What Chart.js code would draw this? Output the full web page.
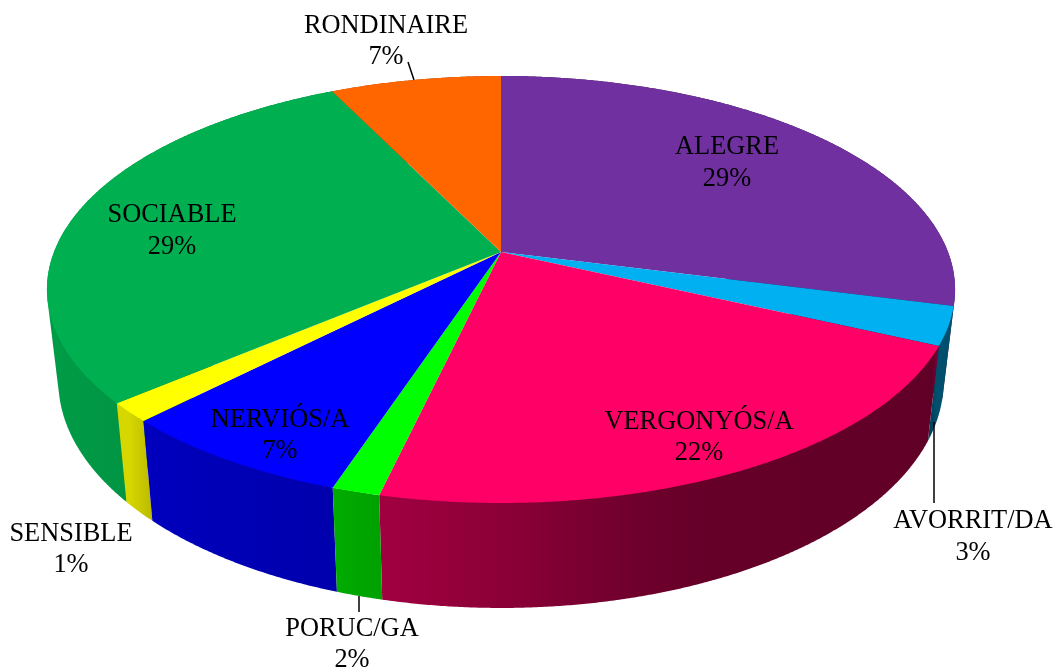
<!DOCTYPE html>
<html>
<head>
<meta charset="utf-8">
<style>html,body{margin:0;padding:0;background:#fff}canvas{display:block}</style>
<script src="https://cdn.jsdelivr.net/npm/chart.js@4"></script>
</head>
<body>
<canvas id="c" width="1062" height="670"></canvas>
<script>
const categories = ['ALEGRE','AVORRIT/DA','VERGONYÓS/A','PORUC/GA','NERVIÓS/A','SENSIBLE','SOCIABLE','RONDINAIRE'];
const sliceShares = [29, 2.9, 21.7, 1.45, 7.25, 1.45, 29, 7.2];
const percentLabels = ['29%','3%','22%','2%','7%','1%','29%','7%'];
const sliceColors = ['#7030A0','#00B0F0','#FF0066','#00FF00','#0000FF','#FFFF00','#00B050','#FF6600'];

// label centres (first line, second line) and leader lines: page layout only
const labelPlaces = [[727,147,179],[973,521,553],[699,422,453],[352,629,660],[280,420,451],[71,534,565],[172,215,247],[386,26,57]];
const leaders = [[408,62,414,80],[934,422,934,503],[359,596,359,612]];

// perspective of the pie's top face and offset of its base
const view = {cx:501, cy:252, a:447, b:206.9, k:0.1756, baseX:0.975, baseY:1.064, baseDrop:72.8};
// wall brightness across the page
const wallShade = [[0,.88],[60,.88],[130,.84],[150,.74],[330,.68],[380,.63],[500,.55],[640,.43],[700,.40],[932,.38],[936,.45],[1062,.45]];

function topPoint(angle){
  const u=Math.cos(angle), v=Math.sin(angle), d=1-view.k*v;
  return [view.cx+view.a*u/d, view.cy+view.b*v/d];
}
function basePoint(p){ return [view.cx+view.baseX*(p[0]-view.cx), view.baseY*p[1]+view.baseDrop]; }
function shadeColor(hex,f){
  const n=parseInt(hex.slice(1),16);
  return `rgb(${Math.round((n>>16&255)*f)},${Math.round((n>>8&255)*f)},${Math.round((n&255)*f)})`;
}
function hull(points){
  const p=points.slice().sort((a,b)=>a[0]-b[0]||a[1]-b[1]);
  const cross=(o,a,b)=>(a[0]-o[0])*(b[1]-o[1])-(a[1]-o[1])*(b[0]-o[0]);
  const build=list=>{const h=[];list.forEach(q=>{while(h.length>1&&cross(h[h.length-2],h[h.length-1],q)<=0)h.pop();h.push(q);});h.pop();return h;};
  return build(p).concat(build(p.slice().reverse()));
}

const pie3d = {
  id:'pie3d',
  beforeDatasetDraw(chart){
    const ctx=chart.ctx, arcs=chart.getDatasetMeta(0).data;
    const rim=arcs.map(el=>{
      const pts=[], n=Math.max(4,Math.ceil((el.endAngle-el.startAngle)/0.005));
      for(let i=0;i<=n;i++) pts.push(topPoint(el.startAngle+(el.endAngle-el.startAngle)*i/n));
      return pts;
    });
    const order=arcs.map((_,i)=>i).sort((a,b)=>Math.sin((arcs[a].startAngle+arcs[a].endAngle)/2)-Math.sin((arcs[b].startAngle+arcs[b].endAngle)/2));
    ctx.save();
    order.forEach(i=>{
      const g=ctx.createLinearGradient(0,0,1062,0);
      wallShade.forEach(s=>g.addColorStop(s[0]/1062,shadeColor(sliceColors[i],s[1])));
      const outline=hull(rim[i].concat(rim[i].map(basePoint)));
      ctx.beginPath();
      outline.forEach((p,j)=>j?ctx.lineTo(p[0],p[1]):ctx.moveTo(p[0],p[1]));
      ctx.closePath();
      ctx.fillStyle=g; ctx.fill();
    });
    arcs.forEach((el,i)=>{
      ctx.beginPath();
      ctx.moveTo(view.cx,view.cy);
      rim[i].forEach(p=>ctx.lineTo(p[0],p[1]));
      ctx.closePath();
      ctx.fillStyle=sliceColors[i]; ctx.fill();
    });
    ctx.restore();
    return false;
  },
  afterDraw(chart){
    const ctx=chart.ctx;
    ctx.save();
    ctx.strokeStyle='#000'; ctx.lineWidth=1.5;
    leaders.forEach(l=>{ctx.beginPath();ctx.moveTo(l[0],l[1]);ctx.lineTo(l[2],l[3]);ctx.stroke();});
    ctx.fillStyle='#000'; ctx.font='26.4px "Liberation Serif"';
    ctx.textAlign='center'; ctx.textBaseline='middle';
    categories.forEach((name,i)=>{
      const p=labelPlaces[i];
      ctx.fillText(name,p[0],p[1]);
      ctx.fillText(percentLabels[i],p[0],p[2]);
    });
    ctx.restore();
  }
};

new Chart(document.getElementById('c'),{
  type:'pie',
  data:{labels:categories,datasets:[{data:sliceShares,backgroundColor:sliceColors,borderWidth:0}]},
  options:{responsive:false,animation:false,plugins:{legend:{display:false},tooltip:{enabled:false}}},
  plugins:[pie3d]
});
</script>
</body>
</html>
